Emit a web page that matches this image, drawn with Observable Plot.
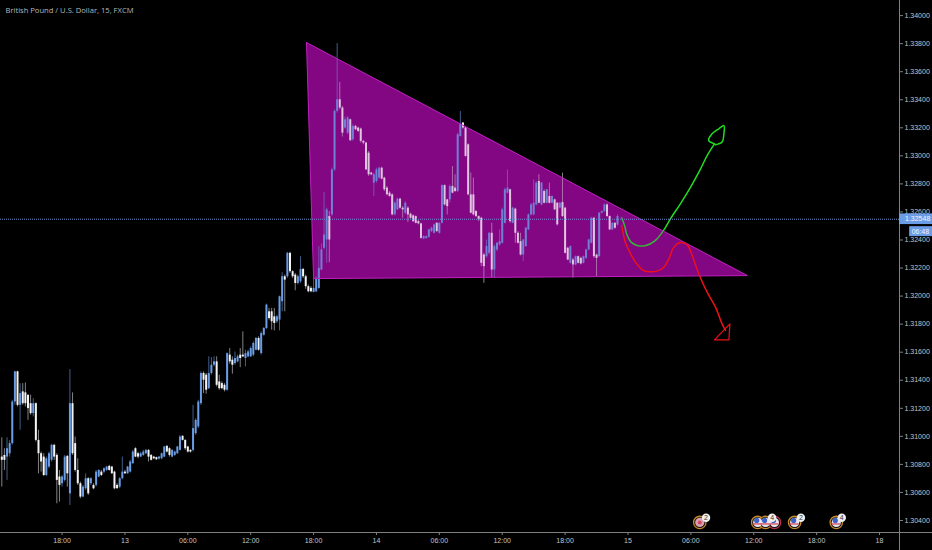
<!DOCTYPE html>
<html><head><meta charset="utf-8">
<script src="https://cdn.jsdelivr.net/npm/d3@7"></script>
<script src="https://cdn.jsdelivr.net/npm/@observablehq/plot@0.6"></script>
<style>html,body{margin:0;padding:0;background:#000;overflow:hidden}svg{display:block}</style>
</head><body><div id="chart"></div><script>
// candle values: price x 100000
const bodyTop=[130852,130864,130912,130948,131245,131460,131460,131305,131317,131310,
131293,131233,131233,131233,130971,130876,130852,130840,130876,130936,
130936,130864,130710,130710,130852,130857,131233,131233,130948,130757,
130662,130638,130698,130698,130698,130650,130745,130757,130745,130769,
130781,130786,130781,130745,130650,130698,130745,130745,130781,130817,
130888,130912,130876,130876,130888,130900,130900,130864,130852,130848,
130852,130876,130924,130929,130912,130900,130888,130924,130995,131000,
130971,130924,130900,131055,131114,131245,131448,131448,131436,131448,
131507,131531,131531,131388,131376,131364,131590,131579,131543,131555,
131567,131579,131579,131590,131602,131626,131662,131698,131698,131733,
131769,131936,131888,131888,131852,131852,131995,132138,132138,132305,
132305,132174,132150,132138,132190,132190,132138,132067,132055,132055,
132126,
132198,132329,132436,132615,132567,132900,133317,133400,133400,133341,
133257,133269,133257,133210,133210,133198,133191,133103,133091,133019,
132877,132865,132900,132912,132912,132841,132770,132734,132722,132662,
132691,132691,132627,132662,132627,132584,132572,132567,132531,132515,
132424,132424,132472,132484,132508,132519,132519,132788,132788,132686,
132781,132781,132770,133150,133222,133234,133198,133079,132722,132722,
132603,132567,132555,132293,132353,132448,132448,132353,132377,132388,
132615,132758,132770,132758,132627,132620,132448,132388,132400,132484,
132579,132650,132662,132805,132817,132805,132746,132758,132710,132710,
132686,132662,132662,132667,132627,132341,132353,132257,132281,132281,
132269,132281,132329,132400,132555,132555,132293,132591,132603,132650,
132650,132567,132519,132519,132567];
const bodyBottom=[130829,130829,130852,130876,130948,131245,131221,131221,131233,131233,
131198,131162,131162,130971,130876,130817,130721,130721,130781,130829,
130852,130686,130650,130662,130686,130733,130590,130876,130757,130662,
130567,130567,130626,130590,130662,130626,130650,130710,130721,130745,
130757,130757,130733,130626,130626,130638,130698,130733,130733,130745,
130805,130852,130852,130852,130864,130876,130852,130829,130840,130833,
130838,130840,130852,130888,130864,130852,130864,130876,130900,130971,
130912,130888,130888,130900,131019,131067,131233,131400,131329,131340,
131448,131507,131364,131340,131340,131329,131329,131531,131507,131519,
131531,131555,131567,131555,131567,131567,131579,131614,131614,131590,
131721,131769,131840,131817,131805,131817,131829,131960,132114,132138,
132174,132138,132090,132090,132102,132138,132067,132031,132031,132026,
132031,
132055,132186,132341,132400,132400,132579,132900,133317,133341,133162,
133198,133162,133108,133115,133186,133174,133103,133091,132900,132865,
132865,132805,132817,132841,132834,132758,132722,132710,132579,132579,
132615,132627,132615,132591,132579,132555,132531,132519,132515,132412,
132407,132410,132419,132460,132448,132460,132448,132519,132650,132638,
132686,132734,132746,132746,133138,133198,132996,132722,132591,132579,
132567,132543,132234,132210,132281,132305,132186,132186,132329,132365,
132377,132519,132734,132531,132519,132448,132377,132293,132293,132353,
132472,132579,132579,132650,132662,132650,132662,132662,132662,132662,
132615,132508,132627,132567,132305,132257,132234,132222,132222,132234,
132229,132234,132269,132329,132377,132281,132269,132281,132591,132603,
132567,132472,132472,132484,132507];
const wickHigh=[130990,130912,130990,130971,131257,131464,131464,131376,131376,131381,
131293,131293,131269,131238,131043,130888,130876,130852,130888,130943,
130943,130876,130757,130721,130864,130864,131476,131310,130995,130840,
130674,130650,130733,130705,130705,130662,130757,130762,130757,130776,
130786,130793,130786,130752,130662,130705,130852,130757,130786,130829,
130900,130919,130886,130886,130900,130907,130905,130871,130857,130852,
130857,130881,130929,130933,130919,130905,130895,130929,131005,131005,
130976,130929,130905,131221,131126,131257,131460,131460,131448,131567,
131562,131567,131567,131436,131388,131376,131595,131626,131567,131602,
131579,131626,131745,131614,131614,131638,131674,131705,131710,131745,
131776,131943,131912,131912,131912,131864,132000,132167,132150,132312,
132312,132181,132162,132150,132281,132198,132150,132079,132067,132126,
132138,
132353,132372,132738,132627,132603,132912,133329,133800,133524,133353,
133277,133281,133262,133222,133217,133205,133198,133110,133096,133031,
132881,132877,132912,132919,132919,132848,132781,132746,132729,132674,
132698,132698,132638,132674,132638,132591,132579,132572,132538,132519,
132429,132429,132477,132491,132515,132524,132524,132793,132793,132691,
132793,132924,132865,133162,133317,133238,133205,133086,132877,132841,
132610,132572,132562,132305,132400,132453,132519,132365,132381,132472,
132627,132770,132900,132762,132634,132627,132460,132448,132405,132491,
132586,132662,132829,132817,132865,132810,132758,132762,132805,132715,
132691,132667,132667,132877,132634,132348,132358,132269,132286,132286,
132277,132286,132334,132405,132562,132562,132298,132596,132608,132658,
132658,132572,132524,132524,132579];
const wickLow=[130638,130757,130686,130852,130936,131221,131210,131043,131221,131210,
131114,131150,131138,130960,130733,130745,130714,130714,130769,130817,
130829,130519,130531,130638,130674,130638,130507,130864,130745,130650,
130555,130562,130614,130579,130650,130619,130638,130705,130714,130733,
130750,130752,130729,130619,130626,130626,130690,130729,130729,130738,
130800,130848,130840,130848,130857,130871,130817,130824,130833,130829,
130831,130833,130848,130881,130852,130848,130857,130871,130895,130967,
130900,130881,130881,130888,131007,131055,131221,131305,131300,131333,
131436,131495,131352,131329,131333,131317,131321,131514,131443,131507,
131524,131490,131562,131495,131560,131562,131567,131610,131607,131579,
131714,131762,131829,131757,131752,131805,131752,131888,131888,132126,
132162,132126,132038,132079,132090,132126,132048,132024,132024,132024,
132024,
132048,132181,132329,132234,132238,132567,132888,133305,133329,133134,
133191,133150,133103,133103,133181,133167,133091,133079,132896,132853,
132858,132710,132805,132834,132829,132746,132715,132705,132572,132572,
132610,132620,132555,132579,132524,132548,132524,132515,132508,132405,
132403,132405,132412,132453,132443,132453,132441,132515,132643,132579,
132662,132729,132738,132738,133134,133191,132991,132715,132586,132572,
132560,132531,132210,132091,132269,132293,132127,132127,132317,132358,
132372,132515,132729,132519,132515,132377,132372,132286,132246,132348,
132467,132572,132572,132643,132658,132643,132658,132658,132658,132658,
132610,132500,132620,132562,132300,132253,132229,132127,132215,132229,
132222,132229,132262,132324,132372,132269,132138,132277,132586,132596,
132562,132467,132467,132477,132500];
// u = candle closed up, d = candle closed down
const direction=["dduuuududd","dduddddduu".slice(0,0)+"dduddddu"+"uu","ddduududdd","duududuudu","uddddu"+"uduu",
"udduuudddd","uuudduuuud","ddduuuuddu","uuddddu"+"ddu","udduuuuudu","uuddduuudu","ddduuddddu","u",
"uuuuduuudd","uududddddd","duuudddddu","uddudddddd","uuuuuduudd","udduuddddd","dddduuduuu",
"uuududdduu","uuuudududu","ddudddudud","duuuudduuu","ddudu"].join("");
const bars=d3.range(bodyTop.length).map(i=>({i,top:bodyTop[i]/1e5,bottom:bodyBottom[i]/1e5,high:wickHigh[i]/1e5,low:wickLow[i]/1e5,up:direction[i]==="u"}));

// pattern drawn on the chart, x = bar number, y = price
const triangleBars=[116.3,119,284.6,116.3];
const trianglePrices=[1.33808,1.32125,1.32146,1.33808];
const triangle=triangleBars.map((x,k)=>({x,y:trianglePrices[k]}));
const greenBars=[236.6,237.7,238.7,240.2,242.5,245.0,247.6,250.1,252.7,255.2,259.0,262.9,266.7,269.2,272.0];
const greenPrices=[1.32558,1.32503,1.32432,1.32385,1.32361,1.32358,1.32373,1.32408,1.32472,1.32551,1.32658,1.32777,1.32907,1.33002,1.33086];
const green=greenBars.map((x,k)=>({x,y:greenPrices[k]}));
const greenHeadBars=[272.0,269.8,271.1,273.7,275.6,275.6,274.9,272.4];
const greenHeadPrices=[1.33086,1.33109,1.33157,1.33193,1.33216,1.33157,1.33098,1.33079];
const greenHead=greenHeadBars.map((x,k)=>({x,y:greenHeadPrices[k]}));
const redBars=[236.6,238.0,240.0,242.5,245.0,247.6,250.1,252.7,254.6,256.5,259.0,261.6,263.5,266.0,269.2,272.4,274.9,276.2];
const redPrices=[1.32503,1.32384,1.32301,1.32225,1.32182,1.32173,1.32178,1.32206,1.32266,1.32349,1.32382,1.32365,1.32289,1.32159,1.32028,1.31921,1.31802,1.31755];
const red=redBars.map((x,k)=>({x,y:redPrices[k]}));
const redHeadBars=[277.5,272.0,277.9,277.5];
const redHeadPrices=[1.31688,1.31688,1.31802,1.31688];
const redHead=redHeadBars.map((x,k)=>({x,y:redHeadPrices[k]}));

// axes
const priceTicks=[1.34,1.338,1.336,1.334,1.332,1.33,1.328,1.326,1.324,1.322,1.32,1.318,1.316,1.314,1.312,1.31,1.308,1.306,1.304];
const timeTicks=[23,47,71,95,119,143,167,191,215,239,263,287,311,335];
const timeLabels=["18:00","13","06:00","12:00","18:00","14","06:00","12:00","18:00","15","06:00","12:00","18:00","18"];
const timeLabel=new Map(timeTicks.map((t,k)=>[t,timeLabels[k]]));
const lastPrice=1.32548;
const lastPriceText="1.32548";
const countdownText="06:48";
const titleText="British Pound / U.S. Dollar, 15, FXCM";

// calendar events along the bottom
const eventBars=[266.4,288.5,291.5,294.9,302.6,318.5];
const eventCountry=["uk","us","us","us","us","us"];
const eventRing=["#c98a2c","#c98a2c","#c98a2c","#b8304c","#c98a2c","#c98a2c"];
const events=eventBars.map((x,k)=>({x,country:eventCountry[k],ring:eventRing[k]}));
const badgeBars=[268.8,294.0,305.0,320.6];
const badgeText=["2","4","2","4"];
const badges=badgeBars.map((x,k)=>({x,text:badgeText[k]}));
const eventPrice=1.30386;
const badgePrice=1.30420;

const UP="#6a9de6",DOWN="#f4f4f4",AXIS="#808080",TXT="#c4c4c4",FONT="'Liberation Sans',sans-serif";
const P="#800680";
const edge=[-0.496,342.63,355.22];
const lowPrice=1.30186;

const svg=Plot.plot({
  width:932,height:550,marginLeft:0,marginTop:0,marginRight:33,marginBottom:18,
  style:{background:"#000",fontFamily:FONT},
  x:{type:"linear",domain:[edge[0],edge[1]]},
  y:{type:"linear",domain:[1.303144,1.341077]},
  marks:[
    Plot.line(triangle,{x:"x",y:"y",fill:P,stroke:"none"}),
    Plot.ruleX(bars.filter(d=>d.up),{x:"i",y1:"low",y2:"high",stroke:UP,strokeWidth:1,strokeOpacity:.6}),
    Plot.ruleX(bars.filter(d=>!d.up),{x:"i",y1:"low",y2:"high",stroke:"#d8d8d8",strokeWidth:1,strokeOpacity:.6}),
    Plot.ruleX(bars.filter(d=>d.up),{x:"i",y1:"bottom",y2:"top",stroke:UP,strokeWidth:2}),
    Plot.ruleX(bars.filter(d=>!d.up),{x:"i",y1:"bottom",y2:"top",stroke:DOWN,strokeWidth:2}),
    Plot.line(green,{x:"x",y:"y",stroke:"#22dc22",strokeWidth:1.5,curve:"catmull-rom"}),
    Plot.line(greenHead,{x:"x",y:"y",stroke:"#22dc22",strokeWidth:1.5,curve:"catmull-rom"}),
    Plot.line(triangle,{x:"x",y:"y",fill:"#900a90",fillOpacity:.2,stroke:"#c020c0",strokeWidth:1}),
    Plot.line(red,{x:"x",y:"y",stroke:"#ee1018",strokeWidth:1.5,curve:"catmull-rom"}),
    Plot.line(redHead,{x:"x",y:"y",stroke:"#ee1018",strokeWidth:1.2}),
    Plot.ruleY([lastPrice],{x1:edge[0],x2:edge[1],stroke:"#6f8fd0",strokeWidth:1,strokeDasharray:"1,1"}),
    // axes
    Plot.axisY({anchor:"right",ticks:priceTicks,tickFormat:d=>d.toFixed(5),tickSize:3,tickPadding:2,stroke:AXIS,fill:TXT,fontSize:7,label:null}),
    Plot.axisX({anchor:"bottom",ticks:timeTicks,tickFormat:d=>timeLabel.get(d),tickSize:3,tickPadding:3,stroke:AXIS,fill:TXT,fontSize:7,label:null}),
    Plot.ruleX([edge[1]],{y1:lowPrice,y2:1.341077,stroke:AXIS,strokeWidth:1}),
    Plot.ruleY([1.303144],{x1:edge[0],x2:edge[2],stroke:AXIS,strokeWidth:1}),
    // last price flag
    Plot.rect([0],{x1:edge[1],x2:edge[2],y1:1.32586,y2:1.32510,fill:"#6a9de6"}),
    Plot.text([0],{x:edge[1],y:lastPrice,text:()=>lastPriceText,textAnchor:"start",dx:5.5,fill:"#f2f6ff",fontSize:7}),
    Plot.rect([0],{x1:346.5,x2:edge[2],y1:1.32495,y2:1.32424,fill:"#6a9de6"}),
    Plot.text([0],{x:346.5,y:1.3246,text:()=>countdownText,textAnchor:"start",dx:2,fill:"#f2f6ff",fontSize:7}),
    // events
    Plot.dot(events,{x:"x",y:()=>eventPrice,r:6.2,fill:"#111",stroke:"ring",strokeWidth:1.3}),
    Plot.dot(events,{x:"x",y:()=>eventPrice,r:4.6,fill:d=>d.country==="uk"?"#d8a0b0":"#e8e6ee"}),
    Plot.ruleY(events.filter(d=>d.country==="us"),{x1:d=>d.x-1.7,x2:d=>d.x+1.7,y:()=>eventPrice,dy:1.5,stroke:"#d84a5a",strokeWidth:1.3}),
    Plot.dot(events.filter(d=>d.country==="us"),{x:"x",y:()=>eventPrice,r:2.6,dy:-2,dx:-1,fill:"#3f62c8"}),
    Plot.dot(events.filter(d=>d.country==="uk"),{x:"x",y:()=>eventPrice,r:2,fill:"#d24a60"}),
    Plot.dot(badges,{x:"x",y:()=>badgePrice,r:4.2,fill:"#f0f0f0"}),
    Plot.text(badges,{x:"x",y:()=>badgePrice,text:"text",fill:"#333",fontSize:7}),
    // title
    Plot.text([titleText],{frameAnchor:"top-left",dx:5,dy:7,fill:"#b8b8b8",fontSize:7.6,fontFamily:"'Open Sans',sans-serif",textAnchor:"start"})
  ]
});
document.getElementById("chart").appendChild(svg);
</script></body></html>
